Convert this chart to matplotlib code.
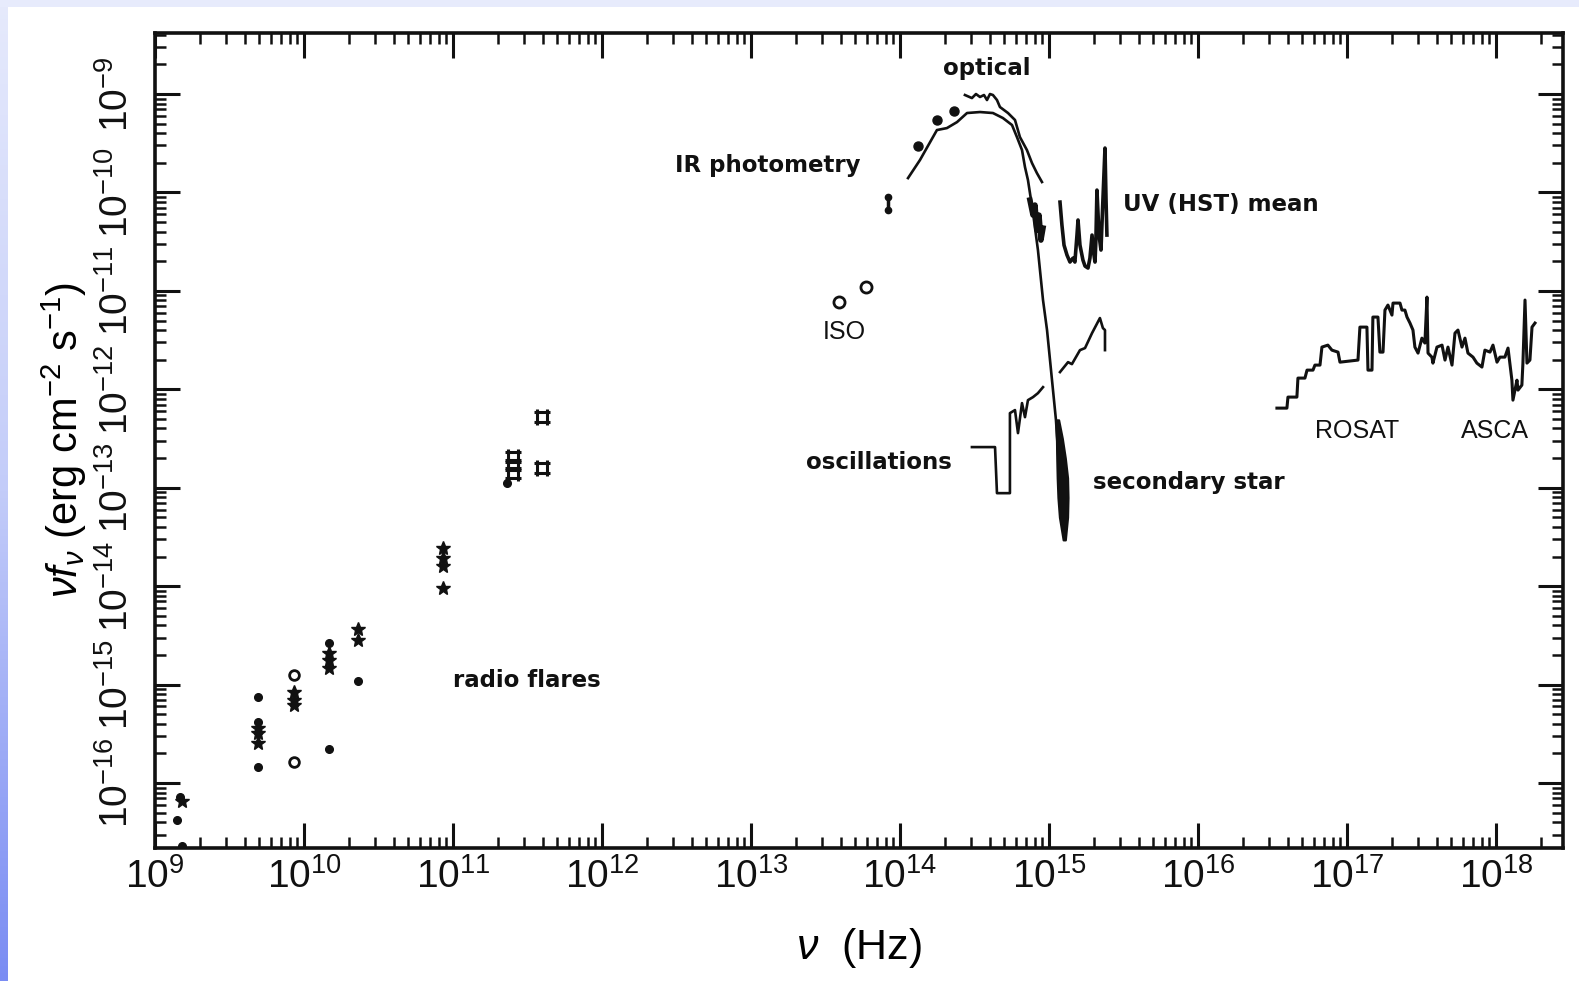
"""
Spectral energy distribution, radio to X-ray, nu*f_nu versus frequency.
"""
import numpy as np
import matplotlib
matplotlib.use("Agg")
import matplotlib.pyplot as plt
import matplotlib.colors as mcolors
from matplotlib.path import Path
from matplotlib.patches import Rectangle
from matplotlib.ticker import LogLocator, NullFormatter

plt.rcParams['font.family'] = ['Liberation Sans', 'DejaVu Sans']
plt.rcParams['mathtext.fontset'] = 'custom'
plt.rcParams['mathtext.rm'] = 'Liberation Sans'
plt.rcParams['mathtext.it'] = 'Liberation Sans:italic'
plt.rcParams['mathtext.bf'] = 'Liberation Sans:bold'

# ---- data, all as log10(nu / Hz) and log10(nu f_nu / erg cm^-2 s^-1) ----
# radio flares
dot_lognu = [9.17, 9.15, 9.18, 9.69, 9.69, 9.69, 10.17, 10.17, 10.36, 11.36]
dot_logf = [-16.14, -16.38, -16.64, -15.13, -15.38, -15.84, -14.58, -15.65, -14.96, -12.95]
star_lognu = [9.18, 9.69, 9.69, 9.69, 9.93, 9.93, 9.93, 10.17, 10.17, 10.17,
              10.36, 10.36, 10.93, 10.93, 10.93, 10.93]
star_logf = [-16.18, -15.44, -15.49, -15.59, -15.08, -15.16, -15.21, -14.68, -14.75, -14.83,
             -14.43, -14.55, -13.61, -13.71, -13.80, -14.02]
ring_lognu = [9.93, 9.93]
ring_logf = [-14.90, -15.79]
mm_lognu = [11.40, 11.40, 11.40, 11.60, 11.60]
mm_logf = [-12.69, -12.77, -12.85, -12.28, -12.80]

# ISO and IR photometry
iso_lognu = [13.59, 13.77]
iso_logf = [-11.11, -10.96]
ir_lognu = [13.92, 13.92]
ir_logf = [-10.05, -10.18]

# optical photometry
opt_lognu = [14.121, 14.248, 14.362]
opt_logf = [-9.528, -9.264, -9.173]

# model / secondary star curve
model_lognu = [14.054, 14.134, 14.248, 14.315, 14.383, 14.450, 14.537, 14.624, 14.691,
               14.752, 14.785, 14.819, 14.839, 14.859, 14.893, 14.926, 14.960, 14.987,
               15.007, 15.027, 15.047, 15.060, 15.074, 15.087, 15.101]
model_logf = [-9.854, -9.671, -9.366, -9.346, -9.285, -9.193, -9.183, -9.193, -9.244,
              -9.315, -9.437, -9.569, -9.742, -9.874, -10.209, -10.585, -11.093, -11.398,
              -11.703, -12.008, -12.313, -12.618, -12.923, -13.228, -13.482]

# optical spectrum
ospec_lognu = [14.436, 14.483, 14.510, 14.537, 14.564, 14.584, 14.604, 14.624, 14.651,
               14.671, 14.725, 14.772, 14.805, 14.852, 14.886, 14.919, 14.953]
ospec_logf = [-9.010, -9.041, -9.000, -9.030, -9.010, -9.061, -9.000, -9.010, -9.061,
              -9.132, -9.193, -9.264, -9.437, -9.569, -9.701, -9.803, -9.894]
blob_lognu = [14.872, 14.893, 14.906, 14.919, 14.933, 14.946, 14.960]
blob_logf = [-10.077, -10.230, -10.128, -10.382, -10.230, -10.484, -10.362]

# UV (HST) mean
uv_lognu = [15.074, 15.087, 15.101, 15.121, 15.141, 15.161, 15.174, 15.188, 15.195,
            15.208, 15.228, 15.242, 15.262, 15.275, 15.289, 15.302, 15.309, 15.315,
            15.322, 15.336, 15.349, 15.362, 15.376, 15.383, 15.389]
uv_logf = [-10.098, -10.331, -10.535, -10.636, -10.707, -10.667, -10.707, -10.433, -10.280,
           -10.535, -10.687, -10.748, -10.768, -10.667, -10.433, -10.636, -10.707, -10.484,
           -9.976, -10.433, -10.585, -10.077, -9.549, -10.077, -10.433]

# oscillations
osc_lognu = [14.483, 14.638, 14.651, 14.738, 14.738, 14.772, 14.792, 14.819, 14.839,
             14.859, 14.893, 14.926, 14.960]
osc_logf = [-12.587, -12.587, -13.055, -13.055, -12.242, -12.211, -12.445, -12.140,
            -12.283, -12.110, -12.079, -12.039, -11.978]
osc2_lognu = [15.074, 15.128, 15.154, 15.208, 15.242, 15.289, 15.342, 15.362, 15.376, 15.376]
osc2_logf = [-11.825, -11.724, -11.744, -11.602, -11.581, -11.429, -11.276, -11.378,
             -11.398, -11.602]

# secondary star (dense band: lower and upper frequency envelope)
sec_logf = [-12.31, -12.50, -12.70, -12.90, -13.10, -13.30, -13.53]
sec_left = [15.045, 15.050, 15.052, 15.055, 15.060, 15.070, 15.095]
sec_right = [15.065, 15.090, 15.110, 15.125, 15.128, 15.125, 15.110]

# ROSAT / ASCA X-ray spectrum
xray_lognu = [16.530, 16.597, 16.604, 16.664, 16.671, 16.718, 16.732, 16.772, 16.785,
              16.819, 16.832, 16.872, 16.899, 16.940, 16.953, 17.074, 17.087, 17.134,
              17.141, 17.168, 17.174, 17.208, 17.221, 17.242, 17.255, 17.275, 17.302,
              17.309, 17.356, 17.369, 17.389, 17.403, 17.423, 17.443, 17.456, 17.477,
              17.503, 17.523, 17.537, 17.544, 17.570, 17.577, 17.604, 17.638, 17.658,
              17.678, 17.705, 17.725, 17.745, 17.772, 17.792, 17.812, 17.846, 17.872,
              17.906, 17.926, 17.960, 17.980, 18.007, 18.027, 18.060, 18.081, 18.107,
              18.114, 18.141, 18.148, 18.174, 18.181, 18.195, 18.208, 18.228, 18.242,
              18.262]
xray_logf = [-12.191, -12.191, -12.079, -12.079, -11.886, -11.886, -11.805, -11.805,
             -11.754, -11.754, -11.571, -11.551, -11.602, -11.622, -11.724, -11.703,
             -11.368, -11.368, -11.805, -11.805, -11.266, -11.266, -11.622, -11.622,
             -11.195, -11.144, -11.246, -11.124, -11.124, -11.195, -11.195, -11.266,
             -11.327, -11.398, -11.571, -11.632, -11.480, -11.530, -11.063, -11.632,
             -11.673, -11.734, -11.571, -11.551, -11.703, -11.571, -11.754, -11.429,
             -11.398, -11.571, -11.480, -11.632, -11.673, -11.734, -11.774, -11.602,
             -11.622, -11.551, -11.724, -11.673, -11.673, -11.581, -11.907, -12.110,
             -11.907, -12.008, -11.957, -11.734, -11.093, -11.734, -11.703, -11.368,
             -11.327]

x_decades = list(range(9, 19))
y_decades = list(range(-16, -8))

# ---- figure ----
fig = plt.figure(figsize=(15.79, 9.81), dpi=100)
fig.patch.set_facecolor('white')

# blue slide border (top band + left gradient strip)
bg = fig.add_axes([0, 0, 1, 1])
bg.set_axis_off()
bg.set_xlim(0, 1)
bg.set_ylim(0, 1)
strip = mcolors.LinearSegmentedColormap.from_list('strip', ['#7a8cf3', '#c3ccf9', '#e6eafc'])
bg.imshow(np.linspace(0, 1, 256)[:, None], cmap=strip, extent=(0, 7 / 1579, 0, 1),
          aspect='auto', origin='lower')
bg.add_patch(Rectangle((0, 1 - 7 / 981), 1, 7 / 981, color='#e7ebfc', lw=0))

ax = fig.add_axes([155 / 1579, 1 - 848 / 981, 1408 / 1579, 815 / 981])
ax.set_xscale('log')
ax.set_yscale('log')

def P(a):
    return 10.0 ** np.asarray(a)

k = '#111111'
lw = 1.9

# radio flares
ax.plot(P(dot_lognu), P(dot_logf), 'o', color=k, ms=5.5, ls='none')
ax.plot(P(star_lognu), P(star_logf), '*', color=k, ms=10, ls='none')
ax.plot(P(ring_lognu), P(ring_logf), 'o', mfc='none', mec=k, mew=2, ms=7, ls='none')
hashmark = Path([(-1, 0.6), (1, 0.6), (-1, -0.6), (1, -0.6),
                 (-0.62, 1), (-0.62, -1), (0.62, 1), (0.62, -1)],
                [Path.MOVETO, Path.LINETO] * 4)
ax.plot(P(mm_lognu), P(mm_logf), marker=hashmark, color=k, mew=2.2, ms=12, ls='none')

# ISO, IR, optical points
ax.plot(P(iso_lognu), P(iso_logf), 'o', mfc='none', mec=k, mew=2, ms=8, ls='none')
ax.plot(P(ir_lognu), P(ir_logf), 'o-', color=k, ms=4.5, lw=2.5)
ax.plot(P(opt_lognu), P(opt_logf), 'o', color=k, ms=6.5, ls='none')

# spectra and model curves
ax.plot(P(model_lognu), P(model_logf), '-', color=k, lw=lw)
ax.plot(P(ospec_lognu), P(ospec_logf), '-', color=k, lw=lw)
ax.plot(P(blob_lognu), P(blob_logf), '-', color=k, lw=4)
ax.plot(P(uv_lognu), P(uv_logf), '-', color=k, lw=2.6)
ax.plot(P(osc_lognu), P(osc_logf), '-', color=k, lw=lw)
ax.plot(P(osc2_lognu), P(osc2_logf), '-', color=k, lw=lw)
ax.fill_betweenx(P(sec_logf), P(sec_left), P(sec_right), color=k, lw=1.5, ec=k)
ax.plot(P(xray_lognu), P(xray_logf), '-', color=k, lw=2.2)

# labels on the plot
ann = dict(family='DejaVu Sans', fontsize=16.5, color=k, fontweight='bold')
plain = dict(family='Liberation Sans', fontsize=18, color=k)
ax.text(P(14.584), P(-8.736), 'optical', ha='center', va='center', **ann)
ax.text(P(13.738), P(-9.722), 'IR photometry', ha='right', va='center', **ann)
ax.text(P(15.497), P(-10.118), 'UV (HST) mean', ha='left', va='center', **ann)
ax.text(P(13.624), P(-11.419), 'ISO', ha='center', va='center', **plain)
ax.text(P(14.349), P(-12.740), 'oscillations', ha='right', va='center', **ann)
ax.text(P(15.295), P(-12.943), 'secondary star', ha='left', va='center', **ann)
ax.text(P(17.067), P(-12.425), 'ROSAT', ha='center', va='center', **plain)
ax.text(P(17.993), P(-12.425), 'ASCA', ha='center', va='center', **plain)
ax.text(P(11.0), P(-14.955), 'radio flares', ha='left', va='center', **ann)

# axes, ticks
ax.set_xlim(P(9.0), P(18.45))
ax.set_ylim(P(-16.66), P(-8.38))
ax.set_xticks(P(x_decades))
ax.set_xticklabels([rf'$10^{{{d}}}$' for d in x_decades], fontsize=28)
ax.set_yticks(P(y_decades))
ax.set_yticklabels([rf'$10^{{{d}}}$' for d in y_decades], fontsize=28,
                   rotation=90, va='center')
ax.xaxis.set_minor_locator(LogLocator(base=10, subs=np.arange(2, 10), numticks=40))
ax.yaxis.set_minor_locator(LogLocator(base=10, subs=np.arange(2, 10), numticks=40))
ax.xaxis.set_minor_formatter(NullFormatter())
ax.yaxis.set_minor_formatter(NullFormatter())
ax.tick_params(which='both', direction='in', top=True, right=True, colors=k)
ax.tick_params(which='major', length=18, width=2.2)
ax.tick_params(which='minor', length=8, width=1.8)
ax.tick_params(axis='x', which='major', pad=7)
ax.tick_params(axis='y', which='major', pad=14)
for s in ax.spines.values():
    s.set_linewidth(2.6)
    s.set_color(k)

ax.set_xlabel(r'$\nu$  (Hz)', fontsize=31, labelpad=22)
ax.set_ylabel(r'$\nu f_\nu$ (erg cm$^{-2}$ s$^{-1}$)', fontsize=30, labelpad=6)

fig.savefig('out.png', dpi=100, facecolor=fig.get_facecolor())
